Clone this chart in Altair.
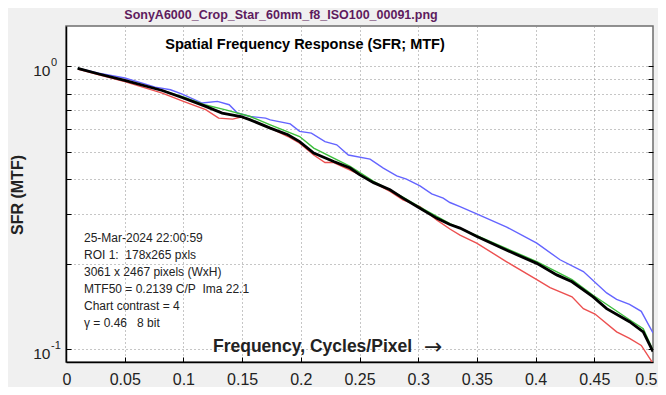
import altair as alt
import pandas as pd

# ---------------- data ----------------
black_x = [0.010, 0.028, 0.050, 0.082, 0.100, 0.119, 0.133, 0.149, 0.157, 0.174, 0.189,
           0.199, 0.211, 0.228, 0.242, 0.250, 0.262, 0.276, 0.287, 0.3015, 0.316, 0.327,
           0.3356, 0.350, 0.375, 0.401, 0.418, 0.431, 0.449, 0.4605, 0.480, 0.4917, 0.500]
black_y = [0.985, 0.940, 0.892, 0.822, 0.773, 0.722, 0.684, 0.665, 0.647, 0.605, 0.573,
           0.542, 0.494, 0.461, 0.437, 0.414, 0.388, 0.366, 0.342, 0.315, 0.290, 0.276,
           0.268, 0.250, 0.224, 0.201, 0.183, 0.173, 0.153, 0.139, 0.125, 0.115, 0.098]

green_x = [0.010, 0.028, 0.050, 0.082, 0.100, 0.119, 0.136, 0.157, 0.174, 0.199, 0.211,
           0.228, 0.242, 0.262, 0.287, 0.3015, 0.327, 0.350, 0.375, 0.401, 0.431, 0.449,
           0.480, 0.4917, 0.500]
green_y = [0.985, 0.941, 0.893, 0.823, 0.780, 0.730, 0.702, 0.665, 0.621, 0.565, 0.514,
           0.474, 0.443, 0.392, 0.345, 0.318, 0.278, 0.252, 0.227, 0.204, 0.176, 0.155,
           0.127, 0.118, 0.099]

red_x = [0.010, 0.028, 0.050, 0.082, 0.100, 0.119, 0.130, 0.142, 0.149, 0.157, 0.174,
         0.189, 0.199, 0.211, 0.2206, 0.228, 0.242, 0.250, 0.262, 0.276, 0.287, 0.3015,
         0.316, 0.327, 0.3356, 0.3498, 0.375, 0.401, 0.4123, 0.431, 0.4407, 0.4506, 0.469,
         0.480, 0.490, 0.500]
red_y = [0.978, 0.934, 0.883, 0.805, 0.752, 0.703, 0.656, 0.651, 0.662, 0.647, 0.605,
         0.565, 0.535, 0.486, 0.457, 0.457, 0.430, 0.414, 0.388, 0.361, 0.337, 0.319,
         0.286, 0.266, 0.253, 0.237, 0.204, 0.176, 0.165, 0.153, 0.139, 0.133, 0.115,
         0.109, 0.103, 0.089]

blue_x = [0.010, 0.028, 0.050, 0.065, 0.076, 0.089, 0.099, 0.116, 0.129, 0.139, 0.146,
          0.157, 0.170, 0.174, 0.191, 0.199, 0.209, 0.2206, 0.2306, 0.2405, 0.259, 0.2703,
          0.2817, 0.290, 0.3015, 0.3115, 0.3213, 0.327, 0.3356, 0.3498, 0.3754, 0.401,
          0.4208, 0.4407, 0.4605, 0.469, 0.480, 0.490, 0.500]
blue_y = [0.985, 0.947, 0.910, 0.873, 0.845, 0.827, 0.798, 0.742, 0.752, 0.732, 0.684,
          0.665, 0.656, 0.647, 0.626, 0.589, 0.581, 0.542, 0.528, 0.486, 0.470, 0.437,
          0.410, 0.399, 0.378, 0.354, 0.342, 0.330, 0.319, 0.301, 0.270, 0.237,
          0.207, 0.188, 0.158, 0.150, 0.144, 0.136, 0.114]

x_ticks = [0, 0.05, 0.1, 0.15, 0.2, 0.25, 0.3, 0.35, 0.4, 0.45, 0.5]
y_ticks = [0.1, 0.2, 0.3, 0.4, 0.5, 0.6, 0.7, 0.8, 0.9, 1.0]
y_decades = [1.0, 0.1]
y_exponents = ["0", "-1"]

main_title = "SonyA6000_Crop_Star_60mm_f8_ISO100_00091.png"
inner_title = "Spatial Frequency Response (SFR; MTF)"
info_lines = [
    "25-Mar-2024 22:00:59",
    "ROI 1:\u00a0\u00a0178x265 pxls",
    "3061 x 2467 pixels (WxH)",
    "MTF50 = 0.2139 C/P\u00a0\u00a0Ima 22.1",
    "Chart contrast = 4",
    "\u03b3 = 0.46\u00a0\u00a0\u00a08 bit",
]
x_title = "Frequency, Cycles/Pixel"
x_arrow = "\u2192"
y_title = "SFR (MTF)"

# ---------------- chart ----------------
FONT = "Liberation Sans"
W, H = 587, 336

xscale = alt.Scale(domain=[0, 0.5], nice=False, zero=False)
yscale = alt.Scale(type="log", domain=[0.09, 1.39], nice=False)

main_x = alt.Axis(orient="bottom", values=x_ticks, format=".2~f", labelFont=FONT,
                  labelFontSize=16, labelColor="#222222", labelPadding=9,
                  labelFlush=True, labelFlushOffset=4,
                  ticks=False, tickSize=0, domain=True, domainColor="#000000", domainWidth=1.5,
                  grid=True, gridColor="#8c8c8c", gridDash=[1, 3], gridWidth=1, title=None)
main_y = alt.Axis(orient="left", values=y_ticks,
                  labelExpr="(datum.value == 1 || datum.value == 0.1) ? '10' : ''",
                  labelFont=FONT, labelFontSize=15.5, labelColor="#222222", labelPadding=16,
                  labelOffset=4, labelOverlap=False, ticks=False, tickSize=0, domain=True,
                  domainColor="#000000", domainWidth=1.5, grid=True, gridColor="#8c8c8c",
                  gridDash=[1, 3], gridWidth=1, title=None)
left_ticks = alt.Axis(orient="left", values=y_ticks, offset=-5, tickSize=5, ticks=True,
                      tickColor="#000000", labels=False, domain=False, grid=False, title=None)
right_ticks = alt.Axis(orient="right", values=y_ticks, offset=-5, tickSize=5, ticks=True,
                       tickColor="#000000", labels=False, domain=False, grid=False, title=None)
bottom_ticks = alt.Axis(orient="bottom", values=x_ticks[1:-1], offset=-5, tickSize=5,
                        ticks=True, tickColor="#000000", labels=False, domain=False,
                        grid=False, title=None)


def line_layer(xs, ys, name, color, width, xaxis, yaxis):
    df = pd.DataFrame({"freq": xs, "mtf": ys, "series": name})
    return alt.Chart(df).mark_line(color=color, strokeWidth=width, clip=True).encode(
        x=alt.X("freq:Q", scale=xscale, axis=xaxis),
        y=alt.Y("mtf:Q", scale=yscale, axis=yaxis),
    )


blue = line_layer(blue_x, blue_y, "blue", "#6464ff", 1.4, None, right_ticks)
red = line_layer(red_x, red_y, "red", "#ec5050", 1.4, bottom_ticks, None)
green = line_layer(green_x, green_y, "green", "#3cbf3c", 1.4, None, left_ticks)
black = line_layer(black_x, black_y, "black", "#000000", 2.8, main_x, main_y)

exps = alt.Chart(pd.DataFrame({"v": y_decades, "e": y_exponents})).mark_text(
    font=FONT, fontSize=11, color="#222222", align="left", baseline="middle", dy=-3
).encode(
    x=alt.value(-15),
    y=alt.Y("v:Q", scale=yscale, axis=None),
    text="e:N",
)


def text_layer(text, x, y, **kw):
    return alt.Chart(alt.Data(values=[{}])).mark_text(text=text, **kw).encode(
        x=alt.value(x), y=alt.value(y))


t_main = text_layer(main_title, 215, -11.5, font=FONT, fontSize=12.5, fontWeight="bold",
                    color="#5e1b5e", align="center", baseline="middle")
t_inner = text_layer(inner_title, 239, 19, font=FONT, fontSize=14.5, fontWeight="bold",
                     color="#000000", align="center", baseline="middle")
t_info = text_layer(info_lines, 18, 216, font=FONT, fontSize=12, lineHeight=17,
                    color="#222222", align="left", baseline="alphabetic")
t_xtitle = text_layer(x_title, 147, 321, font=FONT, fontSize=17.5, fontWeight="bold",
                      color="#222222", align="left", baseline="middle")
t_arrow = text_layer(x_arrow, 358, 321, font="DejaVu Sans", fontSize=22,
                     color="#222222", align="left", baseline="middle")
t_ytitle = text_layer(y_title, -48, 169, font=FONT, fontSize=16, fontWeight="bold",
                      color="#222222", align="center", baseline="middle", angle=270)

chart = alt.layer(blue, red, green, black, exps, t_main, t_inner, t_info, t_xtitle, t_arrow,
                  t_ytitle).resolve_axis(
    x="independent", y="independent"
).properties(
    width=W, height=H,
    autosize=alt.AutoSizeParams(type="none"),
    padding={"left": 58, "top": 18, "right": 5, "bottom": 25},
    background="#f0f0f0",
).configure_view(fill="#ffffff", stroke="#6e6e6e", strokeWidth=1.5)

chart.save("out.html", embed_options={"renderer": "svg", "actions": False})
